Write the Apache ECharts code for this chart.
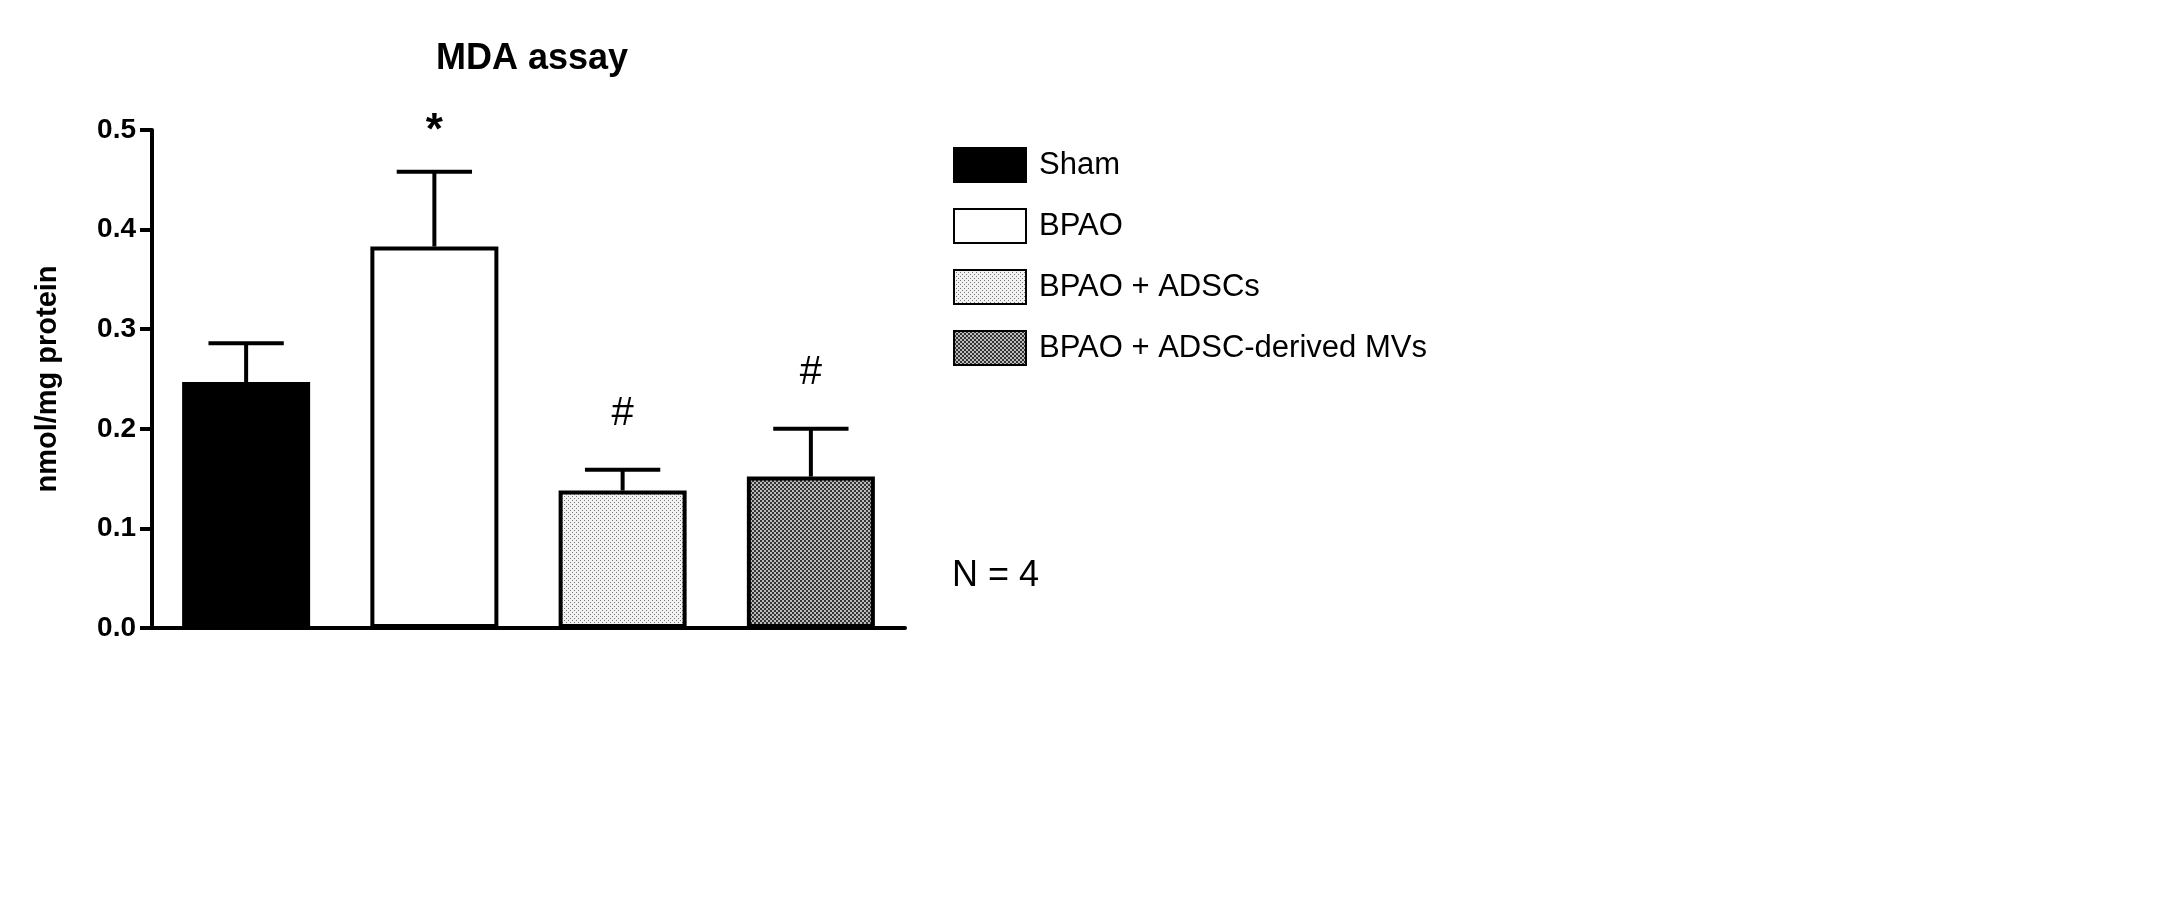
<!DOCTYPE html>
<html>
<head>
<meta charset="UTF-8">
<title>MDA assay</title>
<script src="https://cdn.jsdelivr.net/npm/echarts@6/dist/echarts.min.js"></script>
<style>
*{margin:0;padding:0}
html,body{width:100%;height:100%;background:#fff}
#main{width:2174px;height:917px}
</style>
</head>
<body>
<div id="main"></div>
<script>
var categories = ['Sham', 'BPAO', 'BPAO + ADSCs', 'BPAO + ADSC-derived MVs'];
var means = [0.247, 0.383, 0.138, 0.152];
var errors = [0.039, 0.075, 0.021, 0.048];
var marks = ['', '*', '#', '#'];
var yTicks = [0, 0.1, 0.2, 0.3, 0.4, 0.5];

// small tile patterns for the dotted fills
function makePattern(step, dot, bg, fg) {
    var c = document.createElement('canvas');
    c.width = step; c.height = step;
    var g = c.getContext('2d');
    g.fillStyle = bg; g.fillRect(0, 0, step, step);
    g.fillStyle = fg;
    g.fillRect(0, 0, dot, dot);
    g.fillRect(step / 2, step / 2, dot, dot);
    return {image: c, repeat: 'repeat'};
}
var fills = ['#000', '#fff', makePattern(4, 1, '#f2f2f2', '#777'), makePattern(4, 2, '#bbb', '#333')];

var myChart = echarts.init(document.getElementById('main'));
var series = categories.map(function (name, i) {
    var d = categories.map(function (c, j) { return j === i ? means[j] : '-'; });
    return {
        name: name, type: 'bar', data: d, barWidth: '68%', barGap: '-100%',
        itemStyle: {color: fills[i], borderColor: '#000', borderWidth: 4},
        z: 2
    };
});
series.push({
    type: 'custom', z: 1,
    data: means.map(function (m, i) { return [i, m, m + errors[i], marks[i]]; }),
    renderItem: function (params, api) {
        var x = api.coord([api.value(0), 0])[0];
        var top = api.coord([api.value(0), api.value(2)]);
        var base = api.coord([api.value(0), api.value(1)]);
        var hw = api.size([1, 0])[0] * 0.2;
        var style = {stroke: '#000', lineWidth: 4};
        var kids = [
            {type: 'line', shape: {x1: x, y1: base[1], x2: x, y2: top[1]}, style: style},
            {type: 'line', shape: {x1: x - hw, y1: top[1], x2: x + hw, y2: top[1]}, style: style}
        ];
        if (api.value(3)) {
            var isStar = api.value(3) === '*';
            kids.push({type: 'text', style: {text: api.value(3), x: x, y: top[1] - (isStar ? 18 : 36),
                align: 'center', verticalAlign: 'bottom',
                font: isStar ? 'bold 44px Arial' : '40px Arial', fill: '#000'}});
        }
        return {type: 'group', children: kids};
    }
});

var option = {
    animation: false,
    title: {text: 'MDA assay', left: 527, top: 36, textAlign: 'center',
        textStyle: {fontFamily: 'Arial', fontWeight: 'bold', fontSize: 36, color: '#000'}},
    grid: {left: 152, right: 1269, top: 130, bottom: 289},
    legend: {
        orient: 'vertical', left: 948, top: 142, itemWidth: 72, itemHeight: 34, itemGap: 25,
        icon: 'rect',
        data: categories, selectedMode: false,
        textStyle: {fontFamily: 'Arial', fontSize: 31, color: '#000', padding: [0, 0, 0, 8]}
    },
    xAxis: {type: 'category', data: categories,
        axisLine: {lineStyle: {color: '#000', width: 4}},
        axisTick: {show: false}, axisLabel: {show: false}},
    yAxis: {type: 'value', min: yTicks[0], max: yTicks[yTicks.length - 1], interval: 0.1,
        name: 'nmol/mg protein', nameLocation: 'middle', nameGap: 90,
        nameTextStyle: {fontFamily: 'Arial', fontWeight: 'bold', fontSize: 29, color: '#000'},
        axisLine: {show: true, lineStyle: {color: '#000', width: 4}},
        axisTick: {show: true, length: 12, lineStyle: {width: 4}},
        splitLine: {show: false},
        axisLabel: {fontFamily: 'Arial', fontWeight: 'bold', fontSize: 28, color: '#000', margin: 16,
            formatter: function (v) { return v.toFixed(1); }}},
    graphic: [{type: 'text', left: 952, top: 558,
        style: {text: 'N = 4', font: '36px Arial', fill: '#000'}}],
    series: series
};
myChart.setOption(option);
</script>
</body>
</html>
